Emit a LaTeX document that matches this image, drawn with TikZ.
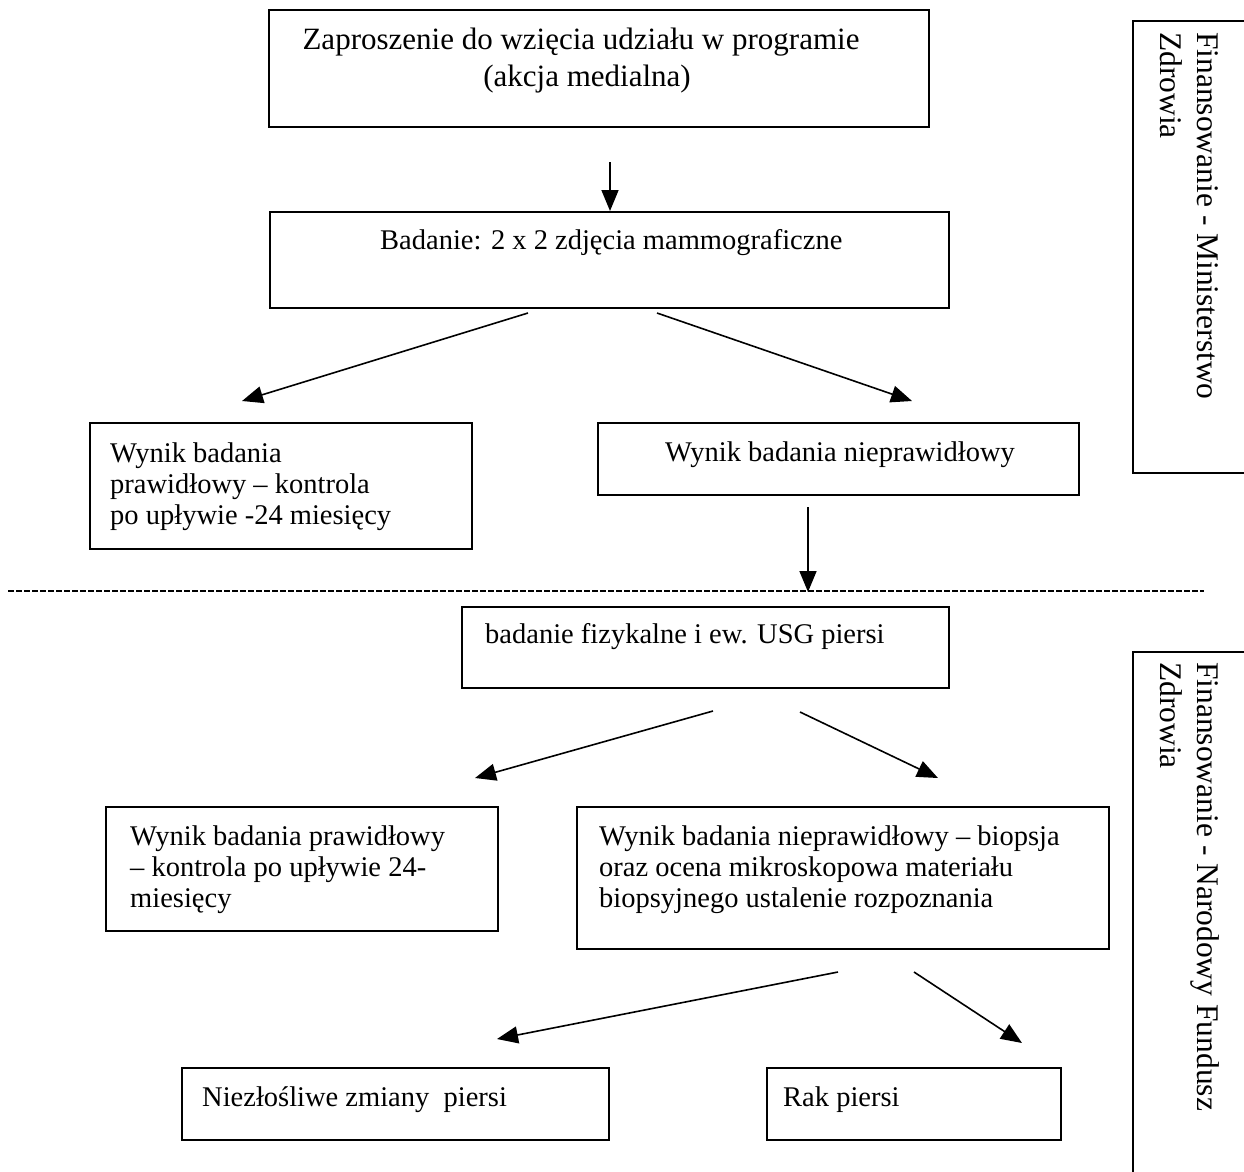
\documentclass[tikz,border=0pt]{standalone}
\usepackage{fontspec}
\setmainfont{Liberation Serif}
\usetikzlibrary{arrows.meta}
\tikzset{
  box/.style={draw, line width=1.5pt, inner sep=0pt, anchor=north west},
  txt/.style={inner sep=0pt, anchor=base west, align=left, font=\fontsize{28.5}{31}\selectfont},
  bigtxt/.style={inner sep=0pt, anchor=base, font=\fontsize{31}{37}\selectfont},
  side/.style={inner sep=0pt, rotate=-90, anchor=base west, align=left, font=\fontsize{31.5}{37}\selectfont},
  arr/.style={line width=1.6pt, -{Triangle[length=21pt,width=17pt]}},
  bracket/.style={line width=1.5pt}
}
\begin{document}
\begin{tikzpicture}[x=1pt,y=-1pt]
\useasboundingbox (0,0) rectangle (1244,1171);
% boxes
\node[box, minimum width=660pt, minimum height=117pt] (b1) at (268,9) {};
\node[box, minimum width=679pt, minimum height=96pt] (b2) at (269,211) {};
\node[box, minimum width=382pt, minimum height=126pt] (b3) at (89,422) {};
\node[box, minimum width=481pt, minimum height=72pt] (b4) at (597,422) {};
\node[box, minimum width=487pt, minimum height=81pt] (b5) at (461,606) {};
\node[box, minimum width=392pt, minimum height=124pt] (b6) at (105,806) {};
\node[box, minimum width=532pt, minimum height=142pt] (b7) at (576,806) {};
\node[box, minimum width=427pt, minimum height=72pt] (b8) at (181,1067) {};
\node[box, minimum width=294pt, minimum height=72pt] (b9) at (766,1067) {};
% texts (multi-line nodes: base = last line's baseline)
\node[bigtxt] (t1a) at (581,49) {Zaproszenie do wzięcia udziału w programie};
\node[bigtxt] (t1b) at (587,86) {(akcja medialna)};
\node[txt] (t2) at (380,249) {Badanie: 2 x 2 zdjęcia mammograficzne};
\node[txt] (t3) at (110,524) {Wynik badania\\prawidłowy – kontrola\\po upływie -24 miesięcy};
\node[txt] (t4) at (665,461) {Wynik badania nieprawidłowy};
\node[txt] (t5) at (485,643) {badanie fizykalne i ew. USG piersi};
\node[txt] (t6) at (130,907) {Wynik badania prawidłowy\\– kontrola po upływie 24-\\miesięcy};
\node[txt] (t7) at (599,907) {Wynik badania nieprawidłowy – biopsja\\oraz ocena mikroskopowa materiału\\biopsyjnego ustalenie rozpoznania};
\node[txt] (t8) at (202,1106) {Niezłośliwe zmiany\ \ piersi};
\node[txt] (t9) at (783,1106) {Rak piersi};
% arrow ends
\coordinate (a1s) at (610,162); \coordinate (a1e) at (610,211);
\coordinate (a2s) at (528,313); \coordinate (a2e) at (242,401);
\coordinate (a3s) at (657,313); \coordinate (a3e) at (912,401);
\coordinate (a4s) at (808,507); \coordinate (a4e) at (808,592);
\coordinate (a5s) at (713,711); \coordinate (a5e) at (475,778);
\coordinate (a6s) at (800,712); \coordinate (a6e) at (938,778);
\coordinate (a7s) at (838,972); \coordinate (a7e) at (497,1039);
\coordinate (a8s) at (914,972); \coordinate (a8e) at (1022,1043);
\draw[arr] (a1s) -- (a1e);
\draw[arr] (a2s) -- (a2e);
\draw[arr] (a3s) -- (a3e);
\draw[arr] (a4s) -- (a4e);
\draw[arr] (a5s) -- (a5e);
\draw[arr] (a6s) -- (a6e);
\draw[arr] (a7s) -- (a7e);
\draw[arr] (a8s) -- (a8e);
% dashed separator
\coordinate (dl) at (8,591); \coordinate (dr) at (1204,591);
\draw[line width=1.5pt, dash pattern=on 6pt off 2pt] (dl) -- (dr);
% side brackets
\draw[bracket] (1250,21) -- (1133,21) -- (1133,473) -- (1250,473);
\draw[bracket] (1250,652) -- (1133,652) -- (1133,1180);
\node[side] (s1) at (1160,32) {Finansowanie - Ministerstwo\\Zdrowia};
\node[side] (s2) at (1160,662) {Finansowanie - Narodowy Fundusz\\Zdrowia};
\end{tikzpicture}
\end{document}
